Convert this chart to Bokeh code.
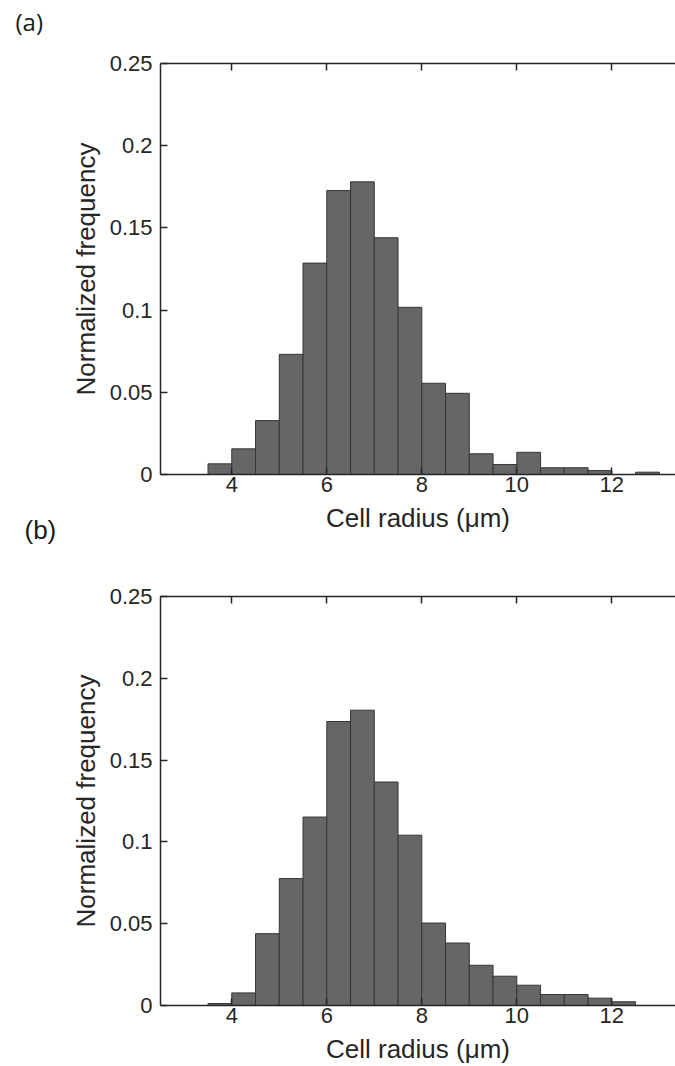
from bokeh.plotting import figure
from bokeh.models import LinearAxis, FixedTicker, Label, Range1d
from bokeh.layouts import column
from bokeh.embed import file_html
from bokeh.resources import INLINE

# ---- data ----
bin_start = [3.5, 4.0, 4.5, 5.0, 5.5, 6.0, 6.5, 7.0, 7.5, 8.0, 8.5, 9.0, 9.5,
             10.0, 10.5, 11.0, 11.5, 12.0, 12.5]
bin_width = 0.5
freq_a = [0.0065, 0.0156, 0.0328, 0.0731, 0.1286, 0.1727, 0.1780, 0.1440, 0.1017,
          0.0555, 0.0494, 0.0126, 0.0061, 0.0135, 0.0041, 0.0041, 0.0024, 0.0, 0.0014]
freq_b = [0.0012, 0.0077, 0.0439, 0.0776, 0.1152, 0.1736, 0.1805, 0.1366, 0.1041,
          0.0504, 0.0382, 0.0246, 0.0179, 0.0124, 0.0067, 0.0067, 0.0045, 0.0023, 0.0]
x_ticks = [4, 6, 8, 10, 12]
y_ticks = [0, 0.05, 0.1, 0.15, 0.2, 0.25]
y_tick_labels = ["0", "0.05", "0.1", "0.15", "0.2", "0.25"]
x_label = "Cell radius (\u03bcm)"
y_label = "Normalized frequency"
panel_labels = ["(a)", "(b)"]

AX = "#262626"
FONT = "Liberation Sans"


def style_axis(ax):
    ax.axis_line_color = AX
    ax.axis_line_width = 1.5
    ax.major_tick_line_color = AX
    ax.major_tick_line_width = 1.5
    ax.major_tick_in = 7
    ax.major_tick_out = 0
    ax.minor_tick_line_color = None
    ax.major_label_text_font = FONT
    ax.major_label_text_color = AX
    ax.major_label_text_font_size = "22px"
    ax.axis_label_text_font = FONT
    ax.axis_label_text_font_style = "normal"
    ax.axis_label_text_color = AX
    ax.axis_label_text_font_size = "26px"


def make_panel(freq, height, top_border, bottom_border):
    p = figure(width=675, height=height, output_backend="svg", toolbar_location=None,
               x_range=Range1d(2.5, 13.34), y_range=Range1d(0, 0.25),
               min_border_left=160, min_border_right=0,
               min_border_top=top_border, min_border_bottom=bottom_border,
               x_axis_label=x_label, y_axis_label=y_label)
    p.outline_line_color = None
    p.grid.visible = False
    p.background_fill_color = "white"
    p.border_fill_color = "white"

    rights = [b + bin_width for b in bin_start]
    p.quad(left=bin_start, right=rights, bottom=0, top=freq,
           fill_color="#666666", line_color="#363636", line_width=1)

    p.xaxis.ticker = FixedTicker(ticks=x_ticks)
    p.yaxis.ticker = FixedTicker(ticks=y_ticks)
    p.yaxis.major_label_overrides = {t: s for t, s in zip(y_ticks, y_tick_labels)}
    for ax in p.xaxis:
        style_axis(ax)
        ax.major_label_standoff = 2
        ax.axis_label_standoff = 8
    for ax in p.yaxis:
        style_axis(ax)
        ax.major_label_standoff = 8
        ax.axis_label_standoff = 6

    top = LinearAxis(ticker=FixedTicker(ticks=x_ticks))
    style_axis(top)
    top.major_label_overrides = {t: "" for t in x_ticks}
    top.major_label_text_font_size = "2px"
    top.major_label_standoff = 0
    p.add_layout(top, "above")
    return p


pa = make_panel(freq_a, 550, 63, 76)
pb = make_panel(freq_b, 516, 46, 60)

# panel label (b): sits below panel (a)'s frame, left of its axis label
pa.add_layout(Label(x=-11, y=-40, x_units="screen", y_units="screen",
                    text=panel_labels[1], text_font=FONT, text_font_size="26px",
                    text_color="#1a1a1a", text_baseline="top", text_align="left"), "left")
# panel label (a): top-left corner
pa.add_layout(Label(x=7, y=470, x_units="screen", y_units="screen",
                    text=panel_labels[0], text_font="Open Sans", text_font_size="24px",
                    text_color="#1a1a1a", text_baseline="top", text_align="left"), "left")

layout = column(pa, pb, spacing=0)
open("out.html", "w").write(file_html(layout, INLINE))
